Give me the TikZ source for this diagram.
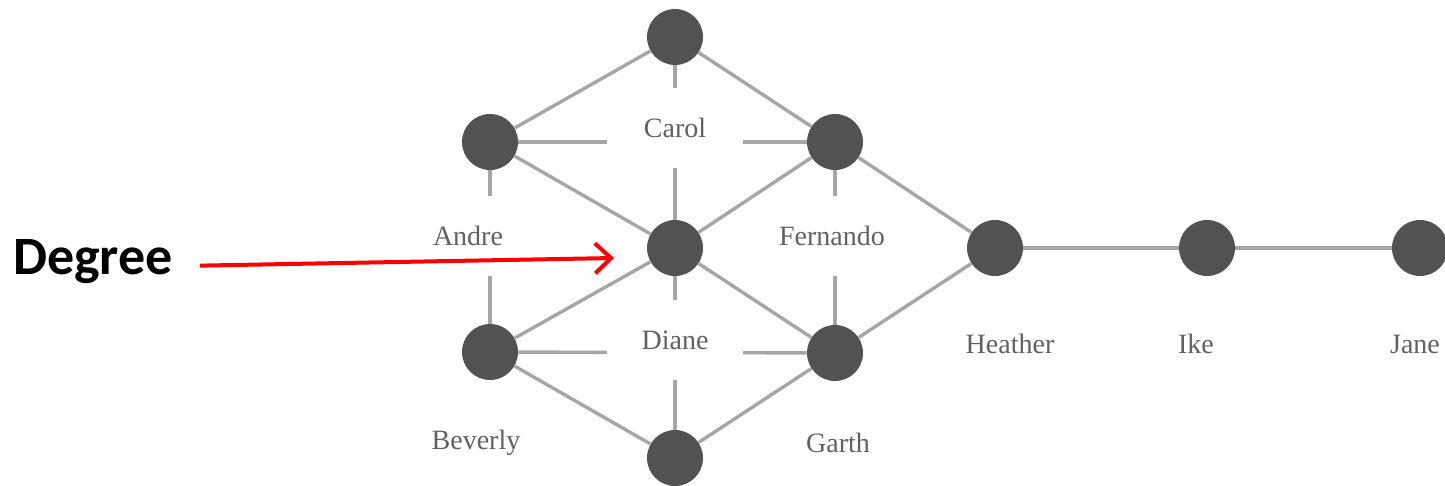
\documentclass[tikz,border=0pt]{standalone}
\usepackage{fontspec}
\setmainfont{Liberation Serif}
\newfontfamily\degreefont{Carlito}
\usetikzlibrary{arrows.meta,positioning,backgrounds}

\begin{document}
\begin{tikzpicture}[
  node distance=53pt and 92.5pt, on grid,
  actor/.style={circle, fill=black!68, minimum size=28pt, inner sep=0pt},
  namebox/.style={rectangle, fill=white, minimum width=68pt, minimum height=40pt, inner sep=0pt, font=\fontsize{14}{16}\selectfont, text=black!62},
  tie/.style={line width=1.7pt, black!35},
  pointer/.style={-{Straight Barb[length=8pt,width=15pt]}, line width=2pt, red}
]
  \useasboundingbox (0,0) rectangle (722.5pt,-243pt);

  % Actors (circles)
  \node[actor] (diane) at (337.5pt,-124pt) {};
  \node[actor, above=105.5pt of diane] (carol) {};
  \node[actor, above left=53pt and 92.5pt of diane] (andre) {};
  \node[actor, above right=53pt and 80pt of diane] (fernando) {};
  \node[actor, below left=52pt and 92.5pt of diane] (beverly) {};
  \node[actor, below right=52.5pt and 80pt of diane] (garth) {};
  \node[actor, below=105pt of diane] (ed) {};
  \node[actor, right=160pt of diane] (heather) {};
  \node[actor, right=106pt of heather] (ike) {};
  \node[actor, right=106.5pt of ike] (jane) {};

  % Names (white boxes cut the ties)
  \node[namebox, below=45.5pt of carol] (carol-n) {Carol};
  \node[namebox, below=47pt of andre, xshift=-11pt] (andre-n) {Andre};
  \node[namebox, below=47pt of fernando, xshift=-1.5pt] (fernando-n) {Fernando};
  \node[namebox, below=46pt of diane] (diane-n) {Diane};
  \node[namebox, below=45.5pt of beverly, xshift=-7pt] (beverly-n) {Beverly};
  \node[namebox, below=45pt of garth, xshift=1.5pt] (garth-n) {Garth};
  \node[namebox, below=48pt of heather, xshift=7.5pt] (heather-n) {Heather};
  \node[namebox, below=48pt of ike, xshift=-5.5pt] (ike-n) {Ike};
  \node[namebox, below=48pt of jane, xshift=-2.5pt] (jane-n) {Jane};

  % Ties
  \begin{scope}[on background layer]
    \path[tie]
      (carol) edge (andre)
      (carol) edge (fernando)
      (carol) edge (diane)
      (andre) edge (fernando)
      (andre) edge (diane)
      (fernando) edge (diane)
      (andre) edge (beverly)
      (fernando) edge (garth)
      (diane) edge (beverly)
      (diane) edge (garth)
      (diane) edge (ed)
      (beverly) edge (garth)
      (beverly) edge (ed)
      (garth) edge (ed)
      (fernando) edge (heather)
      (garth) edge (heather)
      (heather) edge (ike)
      (ike) edge (jane);
  \end{scope}

  % Pointer
  \node[font=\degreefont\bfseries\fontsize{27}{30}\selectfont] (degree) at (46.5pt,-131pt) {Degree};
  \coordinate (tip) at (307pt,-129pt);
  \draw[pointer, shorten <=10pt] ([yshift=-2pt]degree.east) -- (tip);
\end{tikzpicture}
\end{document}
